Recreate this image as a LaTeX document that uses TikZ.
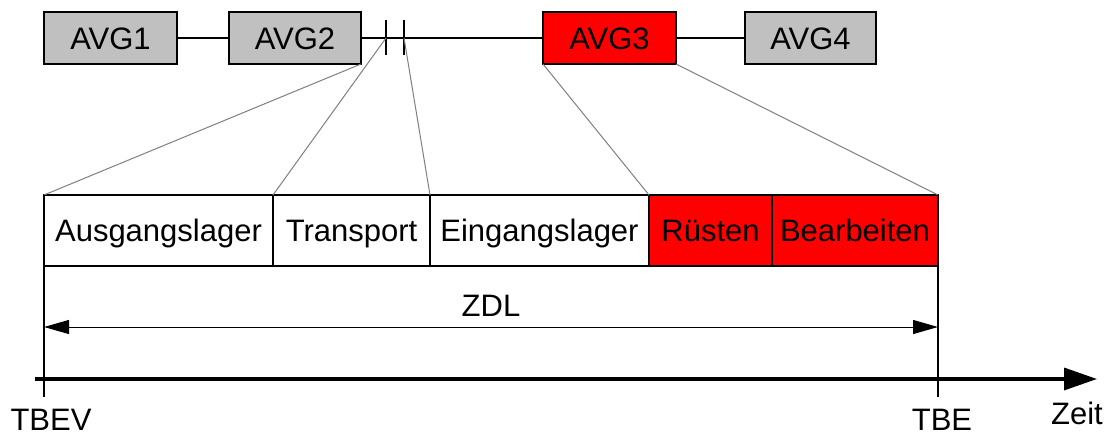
\documentclass[tikz,border=0pt]{standalone}
\usepackage{fontspec}
\setmainfont{Liberation Sans}
\usetikzlibrary{arrows.meta}
\definecolor{avggray}{HTML}{C0C0C0}
\definecolor{avgred}{HTML}{FF0000}
\definecolor{zoomline}{HTML}{808080}
\begin{document}
\begin{tikzpicture}[x=1pt,y=-1pt,
  every node/.style={font=\fontsize{31}{37}\selectfont, inner sep=0pt, outer sep=0pt},
  avgbox/.style={draw=black, line width=1.3pt, minimum height=52pt,
    text height=22pt, text depth=0pt},
  phasebox/.style={draw=black, line width=1.1pt, minimum height=71pt,
    text height=22pt, text depth=0pt},
  link/.style={black, line width=1.3pt},
  zoomlink/.style={zoomline, line width=1pt},
  marker/.style={black, line width=1.1pt},
  span/.style={black, line width=1pt, {Triangle[length=25pt,width=14pt]}-{Triangle[length=25pt,width=14pt]}},
  timeaxis/.style={black, line width=3.5pt, -{Triangle[length=33pt,width=22pt]}},
  textlabel/.style={anchor=base}
]
\useasboundingbox (0,0) rectangle (1113,436);
\fill[white] (0,0) rectangle (1113,436);

% order chain
\node[avgbox, fill=avggray, minimum width=133pt] (avg1) at (110.5,38) {AVG1};
\node[avgbox, fill=avggray, minimum width=132pt] (avg2) at (295,38) {AVG2};
\node[avgbox, fill=avgred,  minimum width=133pt] (avg3) at (609.5,38) {AVG3};
\node[avgbox, fill=avggray, minimum width=131pt] (avg4) at (810.5,38) {AVG4};

\coordinate (br1) at (386,38);
\coordinate (br2) at (404,38);
\draw[link] (avg1.east) -- (avg2.west);
\draw[link] (avg2.east) -- (avg3.west);
\draw[link] (avg3.east) -- (avg4.west);
\draw[marker] ([yshift=-17pt]br1) -- ([yshift=18pt]br1);
\draw[marker] ([yshift=-17pt]br2) -- ([yshift=18pt]br2);

% throughput phases
\node[phasebox, minimum width=229pt] (ausg) at (158.5,230.5) {Ausgangslager};
\node[phasebox, minimum width=157pt] (trans) at (351.5,230.5) {Transport};
\node[phasebox, minimum width=219pt] (eing) at (539.5,230.5) {Eingangslager};
\node[phasebox, fill=avgred, minimum width=123pt] (rues) at (710.5,230.5) {Rüsten};
\node[phasebox, fill=avgred, minimum width=166pt] (bearb) at (855,230.5) {Bearbeiten};

% zoom lines from the chain to the phases
\draw[zoomlink] (avg2.south east) -- (ausg.north west);
\draw[zoomlink] (br1) -- (trans.north west);
\draw[zoomlink] (br2) -- (eing.north west);
\draw[zoomlink] (avg3.south west) -- (rues.north west);
\draw[zoomlink] (avg3.south east) -- (bearb.north east);

% time marks
\coordinate (tbev) at (44,397);
\coordinate (tbe) at (938,397);
\draw[marker] (ausg.north west) -- (tbev);
\draw[marker] (bearb.north east) -- (tbe);

% throughput time
\coordinate (zdlL) at (44,327);
\coordinate (zdlR) at (938,327);
\draw[span] (zdlL) -- (zdlR);
\node[textlabel] (zdl) at (491,316) {ZDL};

% time axis
\coordinate (axL) at (35,379);
\coordinate (axR) at (1097,379);
\draw[timeaxis] (axL) -- (axR);

\node[textlabel] (ltbev) at (51,430) {TBEV};
\node[textlabel] (ltbe) at (942,430) {TBE};
\node[textlabel] (lzeit) at (1077,424) {Zeit};
\end{tikzpicture}
\end{document}
